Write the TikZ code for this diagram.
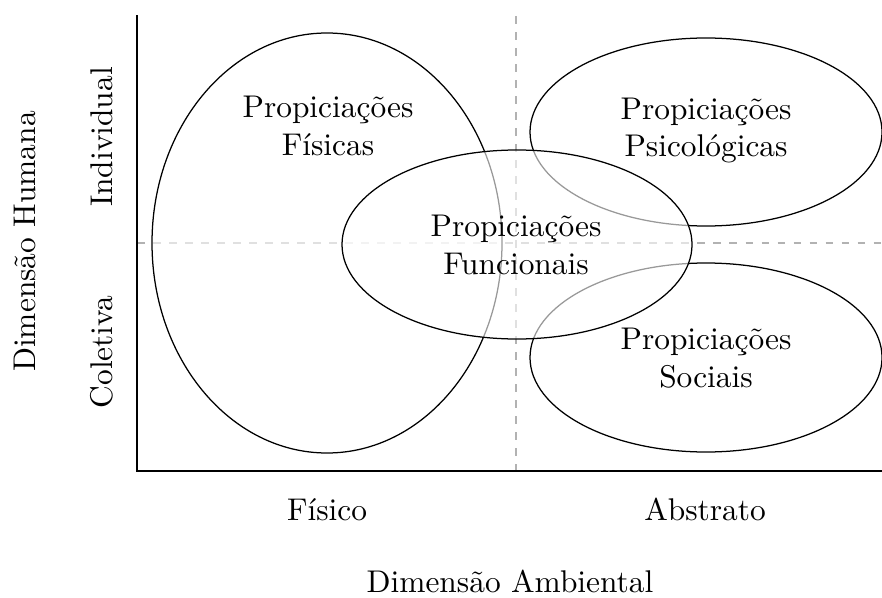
\documentclass[tikz,border=0pt]{standalone}
\usepackage{fontspec}
\begin{document}
\begin{tikzpicture}[
  x=0.3185pt, y=-0.3185pt,
  axis/.style={line width=0.8pt, line cap=rect},
  guide/.style={black!30, line width=0.6pt, dash pattern=on 2.4pt off 2.7pt},
  region/.style={draw=black, line width=0.4pt, fill=white, fill opacity=0.6},
  label/.style={align=center, inner sep=0pt}
]
\useasboundingbox (0,0) rectangle (882,597);

% axis corners and guide ends
\coordinate (top) at (137,16);
\coordinate (o) at (137,471);
\coordinate (right) at (882,471);
\coordinate (mt) at (516,16);
\coordinate (mb) at (516,471);
\coordinate (ml) at (137,243);
\coordinate (mr) at (882,243);

% dashed quadrant guides
\draw[guide] (mt) -- (mb);
\draw[guide] (ml) -- (mr);

% affordance regions
\draw[region] (327,243) ellipse [x radius=175, y radius=210];
\draw[region] (706,132) ellipse [x radius=176, y radius=94];
\draw[region] (706,357.5) ellipse [x radius=176, y radius=94.5];
\draw[region] (517,244.5) ellipse [x radius=175, y radius=94.5];

% axes
\draw[axis] (top) -- (o) -- (right);

% region labels
\node[label] (fis) at (328,126) {Propiciações\\Físicas};
\node[label] (fun) at (516,245) {Propiciações\\Funcionais};
\node[label] (psi) at (706,130.5) {Propiciações\\Psicológicas};
\node[label] (soc) at (706,358) {Propiciações\\Sociais};

% axis labels
\node[anchor=base] (xlo) at (327,520) {Físico};
\node[anchor=base] (xhi) at (705,520) {Abstrato};
\node[anchor=base] (xtitle) at (510,592) {Dimensão Ambiental};
\node[anchor=base, rotate=90] (yhi) at (112,137) {Individual};
\node[anchor=base, rotate=90] (ylo) at (112,352) {Coletiva};
\node[anchor=base, rotate=90] (ytitle) at (35,241.5) {Dimensão Humana};
\end{tikzpicture}
\end{document}
